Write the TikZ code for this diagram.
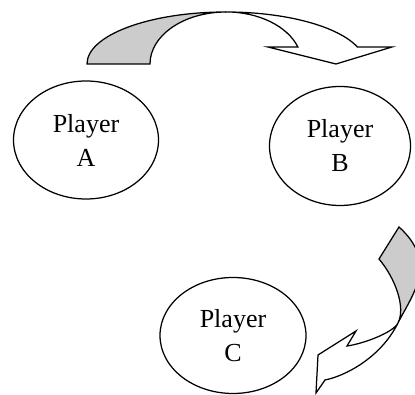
\documentclass[tikz,border=0pt]{standalone}
\usepackage{fontspec}
\setmainfont{Liberation Serif}
\usetikzlibrary{shapes.geometric}
\definecolor{backgray}{HTML}{CCCCCC}
\tikzset{
  player/.style={draw, ellipse, line width=1.25pt, inner sep=0pt, align=center,
    font=\fontsize{26}{34}\selectfont},
  band/.style={draw, line width=1.25pt, line join=miter},
}
\begin{document}
\begin{tikzpicture}[x=1pt,y=1pt]
\useasboundingbox (0,0) rectangle (415,395);
\clip (0,0) rectangle (415,395);
% players
\node[player, minimum width=145pt, minimum height=118pt] (A) at (86,255) {Player\\A};
\node[player, minimum width=141pt, minimum height=119pt] (B) at (340,249) {Player\\B};
\node[player, minimum width=146pt, minimum height=116pt] (C) at (233,59.5) {Player\\C};
% top curved arrow (A to B)
\coordinate (tt) at (226,383);
\draw[band, fill=white] (tt) arc[start angle=90, end angle=19, x radius=139pt, y radius=52pt]
  -- (392,348) -- (336,331) -- (268,348) -- (297.9,348)
  arc[start angle=19, end angle=90, x radius=76pt, y radius=52pt] -- cycle;
\draw[band, fill=backgray] (87,331) arc[start angle=180, end angle=90, x radius=139pt, y radius=52pt]
  arc[start angle=90, end angle=180, x radius=76pt, y radius=52pt] -- cycle;
% right curved arrow (B to C)
\coordinate (cr) at (398,72);
\draw[band, fill=white] (cr) .. controls (380.5,37) and (345,19) .. (325,15)
  -- (316,2) -- (318,40) -- (356,64) -- (347,49)
  .. controls (362,51) and (393,62) .. (cr) -- cycle;
\draw[band, fill=backgray] (399,168) .. controls (439,132) and (412,100) .. (cr)
  .. controls (406,88) and (395,117) .. (379,136) -- cycle;
\end{tikzpicture}
\end{document}
